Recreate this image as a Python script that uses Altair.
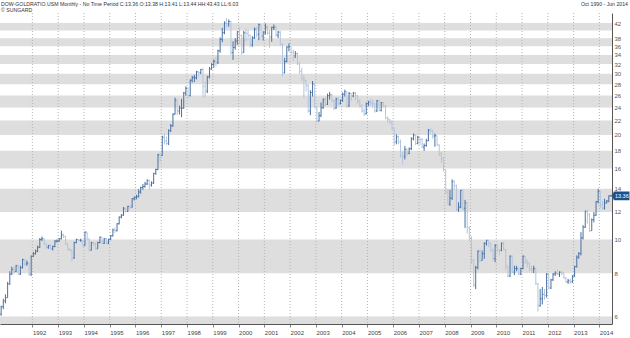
import altair as alt
import pandas as pd

# ---------------- data ----------------
first_open = 6.10
close = {
    1990: [6.40, 6.65, 6.80],
    1991: [7.45, 7.95, 8.20, 8.10, 8.40, 7.95, 8.30, 8.75, 8.50, 8.55, 7.95, 8.95],
    1992: [9.10, 9.25, 9.50, 10.00, 10.05, 9.70, 9.50, 9.60, 9.40, 9.55, 9.90, 9.90],
    1993: [10.05, 10.30, 10.20, 9.70, 9.35, 9.30, 8.85, 9.80, 10.00, 9.95, 9.95, 9.60],
    1994: [10.50, 10.05, 9.30, 9.80, 9.70, 9.40, 9.80, 10.15, 9.75, 10.05, 9.75, 10.00],
    1995: [10.25, 10.65, 10.60, 11.10, 11.60, 11.75, 12.30, 12.05, 12.45, 12.40, 13.10, 13.20],
    1996: [13.30, 13.70, 14.10, 14.20, 14.45, 14.80, 14.35, 14.55, 15.50, 15.90, 17.55, 17.45],
    1997: [19.70, 19.20, 18.90, 20.60, 21.25, 22.95, 25.20, 23.45, 23.90, 23.90, 26.40, 27.25],
    1998: [26.00, 28.75, 29.25, 29.25, 30.40, 30.25, 30.85, 27.60, 26.75, 29.40, 31.00, 31.90],
    1999: [32.60, 32.30, 34.95, 37.70, 39.40, 42.00, 41.80, 42.45, 34.55, 35.75, 37.25, 39.60],
    2000: [38.65, 34.55, 39.40, 39.20, 38.70, 36.30, 38.10, 40.30, 39.00, 41.55, 38.55, 39.35],
    2001: [40.90, 39.30, 38.30, 40.80, 40.85, 38.75, 39.55, 36.45, 30.20, 32.55, 35.85, 35.90],
    2002: [34.60, 33.80, 34.30, 32.20, 30.45, 29.05, 28.75, 27.75, 23.45, 26.50, 28.05, 24.05],
    2003: [21.95, 22.75, 23.95, 25.25, 24.50, 25.95, 26.10, 25.10, 23.90, 25.40, 24.60, 25.15],
    2004: [26.20, 26.65, 24.25, 26.35, 25.90, 26.40, 25.95, 25.00, 24.25, 23.45, 23.00, 24.60],
    2005: [24.85, 24.75, 24.60, 23.45, 25.10, 23.50, 24.80, 24.20, 22.35, 22.20, 21.80, 20.90],
    2006: [19.10, 19.75, 19.10, 17.40, 17.35, 18.20, 17.70, 18.25, 19.50, 20.00, 18.90, 19.70],
    2007: [19.40, 18.45, 18.65, 19.25, 20.65, 20.60, 19.85, 19.90, 18.70, 17.65, 17.10, 15.90],
    2008: [13.70, 12.65, 13.15, 14.70, 14.30, 12.20, 12.40, 13.85, 12.30, 12.75, 10.85, 10.10],
    2009: [8.70, 7.40, 8.30, 9.25, 8.70, 9.10, 9.75, 9.95, 9.75, 9.35, 8.80, 9.60],
    2010: [9.35, 9.30, 9.75, 9.35, 8.40, 7.85, 8.95, 8.05, 8.25, 8.25, 7.95, 8.25],
    2011: [8.95, 8.65, 8.55, 8.25, 8.20, 8.25, 7.45, 6.45, 6.75, 6.95, 6.90, 7.95],
    2012: [7.25, 7.65, 7.95, 8.00, 7.95, 8.05, 8.00, 7.75, 7.55, 7.60, 7.55, 7.85],
    2013: [8.35, 8.90, 9.10, 10.10, 10.85, 12.05, 11.80, 10.60, 11.40, 11.75, 12.85, 13.75],
    2014: [12.60, 12.30, 12.75, 12.90, 13.35, 13.36],
}
high = {
    1990: [6.45, 6.75, 6.95],
    1991: [7.55, 8.10, 8.35, 8.35, 8.45, 8.45, 8.40, 8.80, 8.80, 8.70, 8.60, 9.00],
    1992: [9.20, 9.35, 9.60, 10.10, 10.20, 10.10, 9.75, 9.65, 9.70, 9.60, 9.95, 10.00],
    1993: [10.10, 10.60, 10.40, 10.25, 9.75, 9.45, 9.35, 9.85, 10.05, 10.05, 10.05, 9.95],
    1994: [10.55, 10.50, 10.05, 9.85, 9.85, 9.80, 9.85, 10.20, 10.15, 10.10, 10.10, 10.05],
    1995: [10.30, 10.75, 10.80, 11.15, 11.65, 11.85, 12.40, 12.35, 12.50, 12.60, 13.15, 13.30],
    1996: [13.45, 13.95, 14.20, 14.45, 14.65, 14.90, 14.85, 14.70, 15.55, 16.00, 17.65, 17.80],
    1997: [19.90, 20.20, 19.80, 20.75, 21.50, 23.10, 25.60, 25.30, 24.30, 25.40, 26.60, 27.60],
    1998: [27.50, 28.90, 29.60, 29.80, 30.60, 30.50, 31.00, 31.20, 28.50, 29.60, 31.40, 32.20],
    1999: [33.00, 33.60, 35.20, 38.20, 40.70, 42.50, 43.43, 43.00, 42.60, 37.20, 38.00, 39.90],
    2000: [40.80, 38.90, 39.90, 40.40, 40.20, 38.90, 38.50, 40.80, 41.00, 41.90, 41.60, 39.90],
    2001: [41.90, 41.30, 40.10, 41.00, 41.60, 41.20, 39.90, 39.80, 36.80, 33.30, 36.00, 36.70],
    2002: [35.80, 35.20, 34.90, 34.50, 32.50, 31.20, 29.80, 28.80, 28.00, 26.90, 28.60, 28.10],
    2003: [24.30, 23.30, 24.80, 25.50, 25.70, 26.30, 26.60, 26.30, 25.30, 25.60, 25.70, 25.30],
    2004: [26.50, 27.00, 26.70, 26.60, 26.40, 26.60, 26.60, 26.00, 25.30, 24.50, 23.90, 24.80],
    2005: [25.10, 25.40, 25.30, 24.70, 25.20, 25.30, 24.90, 24.90, 24.40, 22.60, 22.20, 22.00],
    2006: [21.00, 20.10, 19.90, 19.40, 17.90, 18.60, 18.30, 18.40, 19.70, 20.20, 20.00, 19.90],
    2007: [19.70, 19.60, 18.90, 19.50, 20.80, 20.90, 20.70, 20.20, 19.90, 18.80, 17.90, 17.30],
    2008: [15.90, 14.00, 13.90, 14.90, 14.80, 14.40, 12.80, 13.90, 13.90, 13.00, 12.80, 10.90],
    2009: [10.20, 8.80, 8.40, 9.30, 9.40, 9.30, 9.80, 9.95, 9.98, 9.80, 9.40, 9.70],
    2010: [9.70, 9.40, 9.80, 9.85, 9.40, 8.40, 9.00, 9.00, 8.40, 8.40, 8.30, 8.30],
    2011: [9.00, 8.95, 8.75, 8.60, 8.40, 8.40, 8.30, 7.50, 7.20, 7.30, 7.20, 8.00],
    2012: [8.00, 7.70, 8.00, 8.10, 8.20, 8.10, 8.10, 8.05, 7.80, 7.70, 7.70, 7.90],
    2013: [8.40, 9.00, 9.20, 10.50, 11.00, 12.10, 12.20, 11.90, 11.50, 12.00, 12.90, 14.00],
    2014: [13.80, 12.90, 13.10, 13.00, 13.40, 13.44],
}
low = {
    1990: [6.03, 6.30, 6.55],
    1991: [6.80, 7.40, 7.90, 7.95, 8.05, 7.90, 7.90, 8.25, 8.40, 8.40, 7.85, 7.85],
    1992: [8.90, 9.05, 9.20, 9.45, 9.90, 9.65, 9.40, 9.40, 9.35, 9.30, 9.50, 9.80],
    1993: [9.85, 10.00, 10.10, 9.65, 9.30, 9.25, 8.65, 8.80, 9.75, 9.90, 9.85, 9.55],
    1994: [9.60, 9.95, 9.25, 9.30, 9.60, 9.35, 9.40, 9.75, 9.70, 9.70, 9.70, 9.70],
    1995: [9.95, 10.20, 10.45, 10.55, 11.05, 11.50, 11.70, 11.95, 12.00, 12.25, 12.35, 12.95],
    1996: [13.05, 13.20, 13.55, 13.90, 14.10, 14.35, 13.90, 14.20, 14.45, 15.35, 15.85, 16.70],
    1997: [17.40, 18.80, 18.70, 18.70, 20.40, 21.10, 22.90, 22.80, 22.90, 22.50, 23.80, 25.90],
    1998: [25.40, 25.80, 28.30, 28.40, 28.90, 29.50, 29.90, 25.70, 25.60, 26.40, 29.10, 30.80],
    1999: [31.20, 31.50, 32.00, 34.50, 37.00, 39.00, 40.80, 41.00, 34.00, 32.90, 35.20, 36.40],
    2000: [36.50, 34.00, 34.50, 37.20, 37.50, 35.80, 35.90, 37.80, 38.20, 37.50, 37.90, 37.40],
    2001: [38.90, 38.90, 35.70, 37.10, 40.10, 38.30, 38.00, 36.20, 29.50, 30.10, 32.40, 34.80],
    2002: [34.00, 32.60, 33.30, 31.80, 30.00, 28.60, 25.50, 26.70, 23.20, 22.80, 25.80, 23.90],
    2003: [21.70, 21.90, 22.50, 23.80, 24.20, 24.40, 25.30, 24.90, 23.60, 23.80, 24.40, 24.50],
    2004: [24.90, 25.80, 24.00, 24.10, 25.10, 25.70, 25.20, 24.60, 24.00, 23.20, 22.70, 22.90],
    2005: [24.20, 24.30, 24.00, 23.20, 23.30, 23.40, 23.40, 24.00, 22.20, 21.70, 21.40, 20.70],
    2006: [18.60, 18.80, 18.80, 17.20, 16.40, 17.00, 17.40, 17.60, 18.10, 19.30, 18.70, 18.80],
    2007: [18.70, 18.30, 18.00, 18.50, 19.20, 20.20, 19.50, 18.50, 18.60, 17.40, 16.60, 15.70],
    2008: [13.50, 12.60, 12.50, 13.00, 13.90, 12.10, 12.00, 12.30, 12.10, 10.80, 10.40, 9.90],
    2009: [8.50, 7.30, 7.20, 8.20, 8.60, 8.70, 8.80, 9.60, 9.50, 9.20, 8.70, 8.60],
    2010: [9.20, 9.00, 9.25, 9.30, 8.20, 7.80, 7.80, 8.00, 7.90, 8.10, 7.90, 7.90],
    2011: [8.20, 8.50, 8.30, 8.10, 8.00, 8.00, 7.40, 6.20, 6.40, 6.50, 6.70, 6.80],
    2012: [7.20, 7.20, 7.60, 7.85, 7.90, 7.80, 7.90, 7.70, 7.50, 7.45, 7.45, 7.50],
    2013: [7.80, 8.30, 8.80, 9.00, 10.00, 10.80, 11.10, 10.50, 10.60, 11.20, 11.70, 12.70],
    2014: [12.30, 12.20, 12.20, 12.70, 12.80, 13.30],
}
band_low = [5.71, 8, 12, 16, 20, 24, 28, 32, 36, 40]
band_high = [6, 10, 14, 18, 22, 26, 30, 34, 38, 42]
y_ticks = [6, 8, 10, 12, 14, 16, 18, 20, 22, 24, 26, 28, 30, 32, 34, 36, 38, 42]
x_years = list(range(1992, 2015))
last_value = 13.36
header_left = "DOW-GOLDRATIO.USM Monthly -  No Time Period   C:13.36 O:13.38 H:13.41 L:13.44 HH:43.43 LL:6.03"
header_left2 = "\u00a9 SUNGARD"
header_right = "Oct 1990  -  Jun 2014"

# ---------------- tables ----------------
closes = [v for y in sorted(close) for v in close[y]]
highs = [v for y in sorted(high) for v in high[y]]
lows = [v for y in sorted(low) for v in low[y]]
starts = pd.date_range("1990-10-01", periods=len(closes), freq="MS")
opens = [first_open] + closes[:-1]
rows = []
for s, o, h, l, c in zip(starts, opens, highs, lows, closes):
    e = s + pd.offsets.MonthEnd(0)
    m = s + pd.Timedelta(days=14)
    rows.append(dict(start=s, mid=m, end=e, open=o, close=c,
                     high=max(h, o, c), low=min(l, o, c),
                     dir="up" if c >= o else "down"))
df = pd.DataFrame(rows)
bands = pd.DataFrame({"lo": band_low, "hi": band_high})
years = pd.DataFrame({"d": pd.to_datetime([f"{y}-01-01" for y in x_years])})

W, H = 612, 311
FONT = "Liberation Sans Narrow, Liberation Sans, sans-serif"
DARK, LIGHT = "#4a71a3", "#b3c5dc"

xs = alt.Scale(domain=[pd.Timestamp("1990-09-29").isoformat(), pd.Timestamp("2014-06-29").isoformat()])
ys = alt.Scale(type="log", domain=[5.71, 44.9], nice=False, zero=False)
col = alt.Color("dir:N", scale=alt.Scale(domain=["up", "down"], range=[DARK, LIGHT]), legend=None)

x_axis = alt.Axis(values=[f"{y}-01-01" for y in x_years], format="%Y", grid=False,
                  labelAlign="left", labelFont=FONT, labelFontSize=6, labelColor="#444",
                  labelPadding=2, tickSize=3, tickColor="#888", domainColor="#555",
                  title=None, labelOverlap=False, labelFlush=False)
y_axis = alt.Axis(orient="right", values=y_ticks, grid=False, ticks=False,
                  labelFont=FONT, labelFontSize=6, labelColor="#555", labelPadding=2,
                  domainColor="#555", title=None, labelOverlap=False, labelFlush=False)

band_layer = alt.Chart(bands).mark_rect(color="#dedede", clip=True).encode(
    x=alt.value(0), x2=alt.value(W),
    y=alt.Y("lo:Q", scale=ys, axis=y_axis), y2="hi:Q")

grid_layer = alt.Chart(years).mark_rule(color="#b4b4b4", strokeDash=[1, 2], strokeWidth=1).encode(
    x=alt.X("d:T", scale=xs, axis=x_axis), y=alt.value(0), y2=alt.value(H))

hl = alt.Chart(df).mark_rule(strokeWidth=1).encode(
    x=alt.X("mid:T", scale=xs, axis=x_axis),
    y=alt.Y("low:Q", scale=ys, axis=y_axis),
    y2="high:Q", color=col)
op = alt.Chart(df).mark_rule(strokeWidth=1).encode(
    x=alt.X("start:T", scale=xs, axis=x_axis), x2="mid:T",
    y=alt.Y("open:Q", scale=ys, axis=y_axis), color=col)
cl = alt.Chart(df).mark_rule(strokeWidth=1).encode(
    x=alt.X("mid:T", scale=xs, axis=x_axis), x2="end:T",
    y=alt.Y("close:Q", scale=ys, axis=y_axis), color=col)

tag_df = pd.DataFrame({"v": [last_value], "t": [f"{last_value:.2f}"]})
tag = alt.Chart(tag_df).mark_point(
    shape="M-1,0L-0.8,-0.5L1,-0.5L1,0.5L-0.8,0.5Z", size=300, filled=True,
    color="#1d4f8f", opacity=1).encode(x=alt.value(W + 8.8), y=alt.Y("v:Q", scale=ys, axis=y_axis))
tag_txt = alt.Chart(tag_df).mark_text(color="white", fontSize=5.5, font=FONT, align="center",
                                      baseline="middle").encode(
    x=alt.value(W + 9.8), y=alt.Y("v:Q", scale=ys, axis=y_axis), text="t:N")

hdr = pd.DataFrame({"a": [header_left], "b": [header_left2], "c": [header_right]})
h1 = alt.Chart(hdr).mark_text(align="left", baseline="middle", fontSize=5.2, font=FONT,
                              color="#333").encode(x=alt.value(1), y=alt.value(-9.5), text="a:N")
h2 = alt.Chart(hdr).mark_text(align="left", baseline="middle", fontSize=5.2, font=FONT,
                              color="#333").encode(x=alt.value(1), y=alt.value(-3.3), text="b:N")
h3 = alt.Chart(hdr).mark_text(align="right", baseline="middle", fontSize=5.2, font=FONT,
                              color="#333").encode(x=alt.value(628), y=alt.value(-9.5), text="c:N")

chart = alt.layer(band_layer, grid_layer, hl, op, cl, tag, tag_txt, h1, h2, h3).properties(
    width=W, height=H,
    autosize=alt.AutoSizeParams(type="none"),
    padding={"left": 0, "top": 13, "right": 18, "bottom": 14},
    background="white",
).configure_view(stroke=None)

chart.save("out.html", embed_options={"renderer": "svg", "actions": False})
